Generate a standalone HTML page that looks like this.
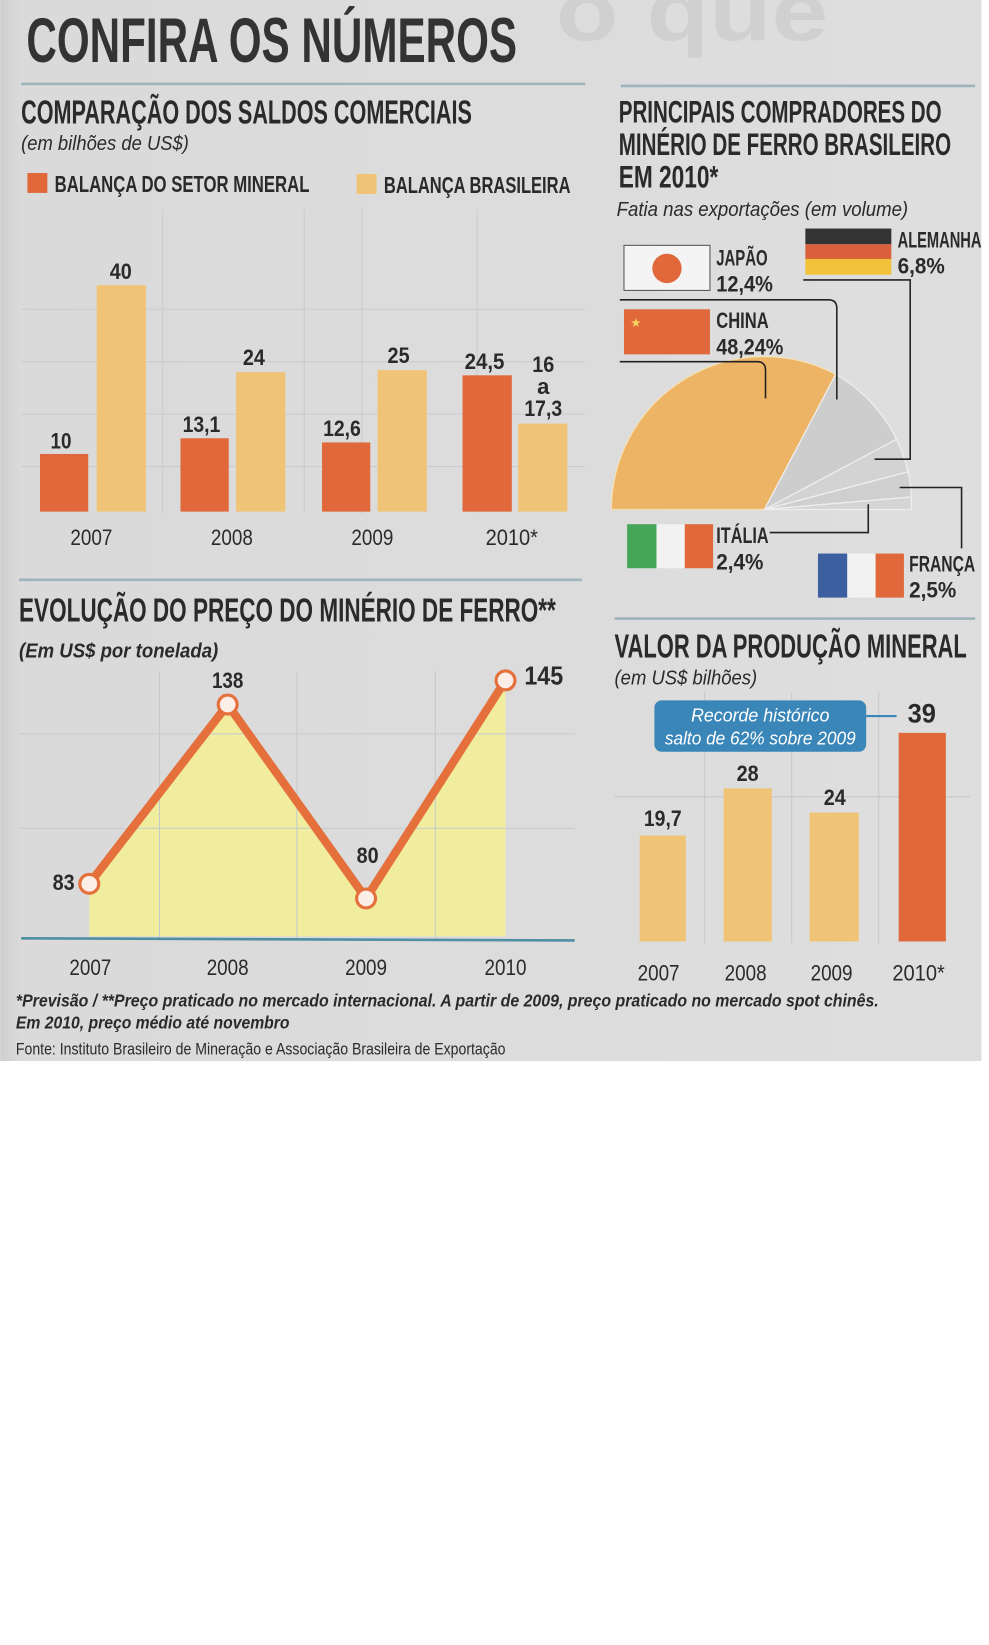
<!DOCTYPE html>
<html><head><meta charset="utf-8"><style>
html,body{margin:0;padding:0;background:#fff;width:989px;height:1645px;overflow:hidden}
svg{display:block}
text{font-family:"Liberation Sans Narrow","Liberation Sans",sans-serif;fill:#2a2a2a}
.b{font-weight:bold}
.i{font-style:italic}
</style></head><body>
<svg width="989" height="1061" viewBox="0 0 943 1012" xmlns="http://www.w3.org/2000/svg">
<defs><linearGradient id="bg" x1="0" x2="1" y1="0" y2="0"><stop offset="0" stop-color="#cfcfcf"/><stop offset="0.02" stop-color="#dadada"/><stop offset="1" stop-color="#dedede"/></linearGradient></defs>
<rect x="0" y="0" width="936" height="1012" fill="url(#bg)"/>
<text x="530" y="38" font-size="80" class="b" style="fill:#d0d0d0" textLength="260" lengthAdjust="spacingAndGlyphs">o que</text>
<text x="25" y="59" font-size="60" class="b" textLength="468" lengthAdjust="spacingAndGlyphs" style="fill:#333">CONFIRA OS NÚMEROS</text>
<line x1="20" y1="80" x2="558" y2="80" stroke="#9fb3bd" stroke-width="2.5"/>
<line x1="592" y1="82" x2="930" y2="82" stroke="#9fb3bd" stroke-width="2.5"/>

<!-- Saldos -->
<text x="20" y="118" font-size="32" class="b" textLength="430" lengthAdjust="spacingAndGlyphs">COMPARAÇÃO DOS SALDOS COMERCIAIS</text>
<text x="20" y="143" font-size="19" class="i" textLength="160" lengthAdjust="spacingAndGlyphs">(em bilhões de US$)</text>
<rect x="26" y="165" width="19" height="19" fill="#e0683a"/>
<text x="52" y="183" font-size="22" class="b" textLength="243" lengthAdjust="spacingAndGlyphs">BALANÇA DO SETOR MINERAL</text>
<rect x="340" y="166" width="19" height="19" fill="#f0c477"/>
<text x="366" y="184" font-size="22" class="b" textLength="178" lengthAdjust="spacingAndGlyphs">BALANÇA BRASILEIRA</text>
<g stroke="#c8ccd0" stroke-width="1" fill="none">
<line x1="20" y1="295" x2="558" y2="295"/><line x1="20" y1="345" x2="558" y2="345"/><line x1="20" y1="395" x2="558" y2="395"/><line x1="20" y1="445" x2="558" y2="445"/>
<line x1="155" y1="200" x2="155" y2="490"/><line x1="290" y1="200" x2="290" y2="490"/><line x1="345" y1="200" x2="345" y2="490"/><line x1="455" y1="200" x2="455" y2="490"/>
</g>
<g fill="#e0683a"><rect x="38" y="433" width="46" height="55"/><rect x="172" y="418" width="46" height="70"/><rect x="307" y="422" width="46" height="66"/><rect x="441" y="358" width="47" height="130"/></g>
<g fill="#f0c477"><rect x="92" y="272" width="47" height="216"/><rect x="225" y="355" width="47" height="133"/><rect x="360" y="353" width="47" height="135"/><rect x="494" y="404" width="47" height="84"/></g>
<g font-size="21" class="b" text-anchor="middle" lengthAdjust="spacingAndGlyphs">
<text x="58" y="428" textLength="20" lengthAdjust="spacingAndGlyphs">10</text><text x="115" y="266" textLength="21" lengthAdjust="spacingAndGlyphs">40</text>
<text x="192" y="412" textLength="36" lengthAdjust="spacingAndGlyphs">13,1</text><text x="242" y="348" textLength="21" lengthAdjust="spacingAndGlyphs">24</text>
<text x="326" y="416" textLength="36" lengthAdjust="spacingAndGlyphs">12,6</text><text x="380" y="346" textLength="21" lengthAdjust="spacingAndGlyphs">25</text>
<text x="462" y="352" textLength="38" lengthAdjust="spacingAndGlyphs">24,5</text><text x="518" y="355" textLength="21" lengthAdjust="spacingAndGlyphs">16</text><text x="518" y="376">a</text><text x="518" y="397" textLength="36" lengthAdjust="spacingAndGlyphs">17,3</text>
</g>
<g font-size="21" text-anchor="middle"><text x="87" y="520" textLength="40" lengthAdjust="spacingAndGlyphs">2007</text><text x="221" y="520" textLength="40" lengthAdjust="spacingAndGlyphs">2008</text><text x="355" y="520" textLength="40" lengthAdjust="spacingAndGlyphs">2009</text><text x="488" y="520" textLength="50" lengthAdjust="spacingAndGlyphs">2010*</text></g>

<!-- Compradores -->
<g font-size="30" class="b">
<text x="590" y="117" textLength="308" lengthAdjust="spacingAndGlyphs">PRINCIPAIS COMPRADORES DO</text>
<text x="590" y="148" textLength="317" lengthAdjust="spacingAndGlyphs">MINÉRIO DE FERRO BRASILEIRO</text>
<text x="590" y="179" textLength="95" lengthAdjust="spacingAndGlyphs">EM 2010*</text>
</g>
<text x="588" y="206" font-size="19" class="i" textLength="278" lengthAdjust="spacingAndGlyphs">Fatia nas exportações (em volume)</text>
<g stroke="#eee" stroke-width="1.2">
<path d="M729,486 L583,486 A146,146 0 0 1 797,357 Z" fill="#edb466" stroke="#f5e0b5"/>
<path d="M729,486 L797,357 A146,146 0 0 1 855,419 Z" fill="#cdcdcd"/>
<path d="M729,486 L855,419 A143,143 0 0 1 866,450 Z" fill="#d3d3d3"/>
<path d="M729,486 L866,450 A140,140 0 0 1 869,474 Z" fill="#cfcfcf"/>
<path d="M729,486 L869,474 A140,140 0 0 1 869,486 Z" fill="#d5d5d5"/>
</g>
<g stroke="#222" stroke-width="1.5" fill="none">
<path d="M591,345 H722 Q730,345 730,353 V380"/>
<path d="M591,286 H790 Q798,286 798,294 V381"/>
<path d="M766,267 H868 V438 H834"/>
<path d="M858,465 H917 V523"/>
<path d="M828,481 V508 H734"/>
</g>
<rect x="595" y="234" width="82" height="43" fill="#f4f4f4" stroke="#555" stroke-width="1"/>
<circle cx="636" cy="256" r="14" fill="#e0683a"/>
<rect x="595" y="295" width="82" height="43" fill="#e0683a"/>
<text x="601" y="312" font-size="12" style="fill:#f6d860">★</text>
<rect x="768" y="218" width="82" height="15" fill="#333"/><rect x="768" y="233" width="82" height="14" fill="#d9603a"/><rect x="768" y="247" width="82" height="15" fill="#f1c23a"/>
<rect x="598" y="500" width="28" height="42" fill="#45a65a"/><rect x="626" y="500" width="27" height="42" fill="#f2f2f2"/><rect x="653" y="500" width="27" height="42" fill="#e0683a"/>
<rect x="780" y="528" width="28" height="42" fill="#3b5f9f"/><rect x="808" y="528" width="27" height="42" fill="#f2f2f2"/><rect x="835" y="528" width="27" height="42" fill="#e0683a"/>
<g font-size="21" class="b">
<text x="683" y="253" textLength="49" lengthAdjust="spacingAndGlyphs">JAPÃO</text><text x="683" y="278" textLength="54" lengthAdjust="spacingAndGlyphs">12,4%</text>
<text x="683" y="313" textLength="50" lengthAdjust="spacingAndGlyphs">CHINA</text><text x="683" y="338" textLength="64" lengthAdjust="spacingAndGlyphs">48,24%</text>
<text x="856" y="236" textLength="80" lengthAdjust="spacingAndGlyphs">ALEMANHA</text><text x="856" y="261" textLength="45" lengthAdjust="spacingAndGlyphs">6,8%</text>
<text x="683" y="518" textLength="50" lengthAdjust="spacingAndGlyphs">ITÁLIA</text><text x="683" y="543" textLength="45" lengthAdjust="spacingAndGlyphs">2,4%</text>
<text x="867" y="545" textLength="63" lengthAdjust="spacingAndGlyphs">FRANÇA</text><text x="867" y="570" textLength="45" lengthAdjust="spacingAndGlyphs">2,5%</text>
</g>

<!-- Line chart -->
<line x1="18" y1="553" x2="555" y2="553" stroke="#9fb3bd" stroke-width="2.5"/>
<text x="18" y="593" font-size="32" class="b" textLength="512" lengthAdjust="spacingAndGlyphs">EVOLUÇÃO DO PREÇO DO MINÉRIO DE FERRO**</text>
<text x="18" y="627" font-size="19" class="b i" textLength="190" lengthAdjust="spacingAndGlyphs">(Em US$ por tonelada)</text>
<path d="M85,843 L217,672 L349,857 L482,649 L482,893 L85,893 Z" fill="#f0ee9e"/>
<g stroke="#c5c9cc" stroke-width="1"><line x1="152" y1="640" x2="152" y2="895"/><line x1="283" y1="640" x2="283" y2="895"/><line x1="415" y1="640" x2="415" y2="895"/><line x1="18" y1="700" x2="548" y2="700"/><line x1="18" y1="790" x2="548" y2="790"/></g>
<line x1="20" y1="895" x2="548" y2="897" stroke="#4e8fa3" stroke-width="2.5"/>
<polyline points="85,843 217,672 349,857 482,649" fill="none" stroke="#e5703c" stroke-width="8" stroke-linejoin="round"/>
<g fill="#fbeee6" stroke="#e5703c" stroke-width="3"><circle cx="85" cy="843" r="9"/><circle cx="217" cy="672" r="9"/><circle cx="349" cy="857" r="9"/><circle cx="482" cy="649" r="9"/></g>
<g class="b"><text x="50" y="849" font-size="21" textLength="21" lengthAdjust="spacingAndGlyphs">83</text><text x="202" y="656" font-size="21" textLength="30" lengthAdjust="spacingAndGlyphs">138</text><text x="340" y="823" font-size="21" textLength="21" lengthAdjust="spacingAndGlyphs">80</text><text x="500" y="653" font-size="25" textLength="37" lengthAdjust="spacingAndGlyphs">145</text></g>
<g font-size="21" text-anchor="middle"><text x="86" y="930" textLength="40" lengthAdjust="spacingAndGlyphs">2007</text><text x="217" y="930" textLength="40" lengthAdjust="spacingAndGlyphs">2008</text><text x="349" y="930" textLength="40" lengthAdjust="spacingAndGlyphs">2009</text><text x="482" y="930" textLength="40" lengthAdjust="spacingAndGlyphs">2010</text></g>

<!-- Valor produção -->
<line x1="586" y1="590" x2="930" y2="590" stroke="#9fb3bd" stroke-width="2.5"/>
<text x="586" y="627" font-size="32" class="b" textLength="336" lengthAdjust="spacingAndGlyphs">VALOR DA PRODUÇÃO MINERAL</text>
<text x="586" y="653" font-size="19" class="i" textLength="136" lengthAdjust="spacingAndGlyphs">(em US$ bilhões)</text>
<g stroke="#c5c9cc" stroke-width="1"><line x1="672" y1="660" x2="672" y2="900"/><line x1="755" y1="660" x2="755" y2="900"/><line x1="838" y1="660" x2="838" y2="900"/><line x1="586" y1="760" x2="925" y2="760"/></g>
<g fill="#f0c477"><rect x="610" y="797" width="44" height="101"/><rect x="690" y="752" width="46" height="146"/><rect x="772" y="775" width="47" height="123"/></g>
<rect x="857" y="699" width="45" height="199" fill="#e0683a"/>
<rect x="624" y="668" width="202" height="49" rx="7" fill="#3a86b8"/>
<line x1="826" y1="683" x2="855" y2="683" stroke="#3a86b8" stroke-width="2"/>
<g font-size="18" class="i" text-anchor="middle"><text x="725" y="688" style="fill:#fff" textLength="132" lengthAdjust="spacingAndGlyphs">Recorde histórico</text><text x="725" y="710" style="fill:#fff" textLength="182" lengthAdjust="spacingAndGlyphs">salto de 62% sobre 2009</text></g>
<g class="b" text-anchor="middle"><text x="632" y="788" font-size="21" textLength="36" lengthAdjust="spacingAndGlyphs">19,7</text><text x="713" y="745" font-size="21" textLength="21" lengthAdjust="spacingAndGlyphs">28</text><text x="796" y="768" font-size="21" textLength="21" lengthAdjust="spacingAndGlyphs">24</text><text x="879" y="689" font-size="26" textLength="27" lengthAdjust="spacingAndGlyphs">39</text></g>
<g font-size="21" text-anchor="middle"><text x="628" y="935" textLength="40" lengthAdjust="spacingAndGlyphs">2007</text><text x="711" y="935" textLength="40" lengthAdjust="spacingAndGlyphs">2008</text><text x="793" y="935" textLength="40" lengthAdjust="spacingAndGlyphs">2009</text><text x="876" y="935" textLength="50" lengthAdjust="spacingAndGlyphs">2010*</text></g>

<text x="15" y="960" font-size="17" class="b i" textLength="823" lengthAdjust="spacingAndGlyphs">*Previsão / **Preço praticado no mercado internacional. A partir de 2009, preço praticado no mercado spot chinês.</text>
<text x="15" y="981" font-size="17" class="b i" textLength="261" lengthAdjust="spacingAndGlyphs">Em 2010,  preço médio até novembro</text>
<text x="15" y="1006" font-size="16" textLength="467" lengthAdjust="spacingAndGlyphs">Fonte: Instituto Brasileiro de Mineração e Associação Brasileira de Exportação</text>
</svg>
</body></html>
